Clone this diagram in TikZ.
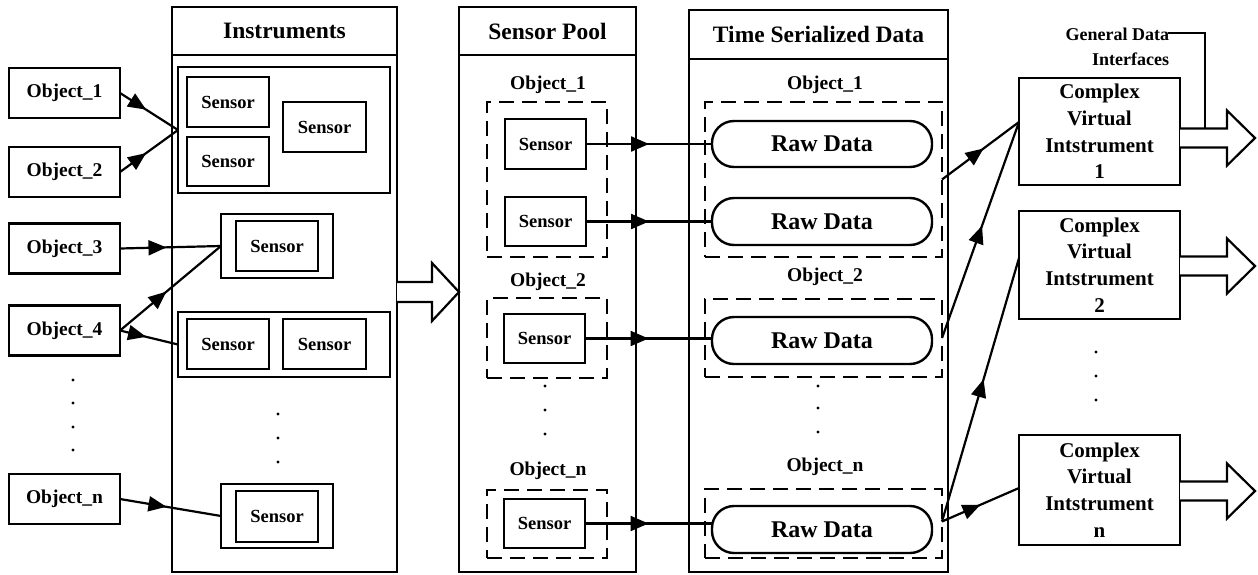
\documentclass[tikz,border=0pt]{standalone}
\usepackage{fontspec}
\setmainfont{Liberation Serif}
\usetikzlibrary{arrows.meta,decorations.markings,calc}

\tikzset{
  every node/.style={inner sep=0pt, outer sep=0pt},
  solidbox/.style={draw, line width=2.4pt, line join=miter},
  dashbox/.style={draw, line width=2.4pt, dash pattern=on 15pt off 8pt},
  hdrfont/.style={font=\fontsize{23.5}{28}\selectfont\bfseries},
  objbox/.style={solidbox, minimum width=111, minimum height=50,
                 font=\fontsize{19.5}{23}\selectfont\bfseries},
  sensorbox/.style={solidbox, minimum width=82, minimum height=50,
                 font=\fontsize{18.5}{22}\selectfont\bfseries},
  rawbox/.style={solidbox, rounded corners=22pt, minimum width=220, minimum height=47,
                 font=\fontsize{24}{28}\selectfont\bfseries},
  cvibox/.style={solidbox, minimum width=161, align=center,
                 font=\fontsize{21}{26.7}\selectfont\bfseries},
  lbl/.style={font=\fontsize{19.5}{23}\selectfont\bfseries},
  conn/.style={line width=2.2pt},
  midarrow/.style={postaction={decorate}, decoration={markings,
      mark=at position #1 with {\arrow{Triangle[length=18pt,width=15pt]}}}},
  midarrow/.default=0.5,
  blockarrow/.style={draw, line width=2.2pt, line join=miter, fill=white},
  dotmark/.style={fill=black},
}

% hollow block arrow starting at a box edge: #1 start, #2 shaft length,
% #3 head length, #4 shaft half width, #5 head half width
\newcommand{\hollowarrow}[5]{%
  \draw[blockarrow, shift={(#1)}]
    (0,-#4) -- (#2,-#4) -- (#2,-#5) -- ({#2+#3},0) -- (#2,#5) -- (#2,#4) -- (0,#4);}

\begin{document}
\begin{tikzpicture}[x=1pt,y=-1pt]
\useasboundingbox (0,0) rectangle (1258,574);

% ---------- objects ----------
\node[objbox] (o1) at (64.5,93)    {Object\_1};
\node[objbox] (o2) at (64.5,172)   {Object\_2};
\node[objbox] (o3) at (64.5,248.5) {Object\_3};
\node[objbox] (o4) at (64.5,330.5) {Object\_4};
\node[objbox] (on) at (64.5,499)   {Object\_n};
\foreach \yy in {380,403,427,450} \fill[dotmark] (73,\yy) circle (1.6pt);

% ---------- instruments column ----------
\node[solidbox, hdrfont, minimum width=225, minimum height=48] (insH) at (284.5,31) {Instruments};
\node[solidbox, minimum width=225, minimum height=517] (insB) at (284.5,313.5) {};

\node[solidbox, minimum width=212, minimum height=126] (g1) at (284,130) {};
\node[sensorbox] (s1a) at (228,102)   {Sensor};
\node[sensorbox, minimum height=49] (s1b) at (228,161.5) {Sensor};
\node[sensorbox, minimum width=83] (s1c) at (324.5,127) {Sensor};

\node[solidbox, minimum width=112, minimum height=64] (g2) at (277,246) {};
\node[sensorbox] (s2) at (277,246) {Sensor};

\node[solidbox, minimum width=212, minimum height=65] (g3) at (284,344.5) {};
\node[sensorbox] (s3a) at (228,344)   {Sensor};
\node[sensorbox, minimum width=83] (s3b) at (324.5,344) {Sensor};

\foreach \yy in {414,438,462} \fill[dotmark] (278,\yy) circle (1.6pt);

\node[solidbox, minimum width=112, minimum height=64] (gn) at (277,516) {};
\node[sensorbox, minimum height=51] (sn) at (277,516.5) {Sensor};

% ---------- sensor pool column ----------
\node[solidbox, hdrfont, minimum width=177, minimum height=48] (spH) at (547.5,31) {Sensor Pool};
\node[solidbox, minimum width=177, minimum height=517] (spB) at (547.5,313.5) {};

\node[lbl] (pl1) at (548,85)  {Object\_1};
\node[dashbox, minimum width=120, minimum height=155] (pd1) at (547,179.5) {};
\node[sensorbox, minimum width=81] (ps1) at (545.5,144) {Sensor};
\node[sensorbox, minimum width=81, minimum height=49] (ps2) at (545.5,221.5) {Sensor};

\node[lbl] (pl2) at (548,282) {Object\_2};
\node[dashbox, minimum width=120, minimum height=80] (pd2) at (547,338) {};
\node[sensorbox, minimum width=81, minimum height=49] (ps3) at (544.5,338.5) {Sensor};

\foreach \yy in {386,410,434} \fill[dotmark] (545,\yy) circle (1.6pt);

\node[lbl] (pln) at (548,471) {Object\_n};
\node[dashbox, minimum width=120, minimum height=68] (pdn) at (547,524) {};
\node[sensorbox, minimum width=81, minimum height=49] (psn) at (544.5,523.5) {Sensor};

% ---------- time serialized data column ----------
\node[solidbox, hdrfont, minimum width=259, minimum height=49] (tsH) at (818.5,34.5) {Time Serialized Data};
\node[solidbox, minimum width=259, minimum height=513] (tsB) at (818.5,315.5) {};

\node[lbl] (tl1) at (825,85)  {Object\_1};
\node[dashbox, minimum width=237, minimum height=155] (td1) at (823.5,179.5) {};
\node[rawbox, minimum height=46] (r1) at (822,144)   {Raw Data};
\node[rawbox] (r2) at (822,221.5) {Raw Data};

\node[lbl] (tl2) at (825,277) {Object\_2};
\node[dashbox, minimum width=237, minimum height=78] (td2) at (823.5,338) {};
\node[rawbox] (r3) at (822,340.5) {Raw Data};

\foreach \yy in {386,408,432} \fill[dotmark] (818,\yy) circle (1.6pt);

\node[lbl] (tln) at (825,467) {Object\_n};
\node[dashbox, minimum width=237, minimum height=69] (tdn) at (823.5,523.5) {};
\node[rawbox] (rn) at (822,529.5) {Raw Data};

% ---------- complex virtual instruments ----------
\node[cvibox, minimum height=107] (c1) at (1099.5,131.5) {Complex\\Virtual\\Intstrument\\1};
\node[cvibox, minimum height=108] (c2) at (1099.5,265)   {Complex\\Virtual\\Intstrument\\2};
\node[cvibox, minimum height=110] (cn) at (1099.5,490)   {Complex\\Virtual\\Intstrument\\n};
\foreach \yy in {352,376,400} \fill[dotmark] (1096,\yy) circle (1.6pt);

\node[align=right, anchor=north east, font=\fontsize{18}{25}\selectfont\bfseries] (gdi) at (1169,28)
  {General Data\\Interfaces};

% ---------- connectors: objects to instruments ----------
\draw[conn, midarrow=0.45] (o1.east) -- (g1.west);
\draw[conn, midarrow=0.45] (o2.east) -- (g1.west);
\draw[conn, midarrow=0.46] (o3.east) -- (g2.west);
\draw[conn, midarrow=0.46] (o4.east) -- (g2.west);
\draw[conn, midarrow=0.45] (o4.east) -- (g3.west);
\draw[conn, midarrow=0.46] (on.east) -- (gn.west);

% ---------- connectors: sensors to raw data ----------
\draw[conn, midarrow=0.5] (ps1.east) -- (ps1.east -| r1.west);
\draw[conn, midarrow=0.5] (ps2.east) -- (ps2.east -| r2.west);
\draw[conn, midarrow=0.5] (ps3.east) -- (ps3.east -| r3.west);
\draw[conn, midarrow=0.5] (psn.east) -- (psn.east -| rn.west);

% ---------- connectors: raw data groups to virtual instruments ----------
\coordinate (c1in) at ($(c1.west)+(0,-9.5)$);
\coordinate (c2in) at ($(c2.west)+(0,-7)$);
\coordinate (cnin) at ($(cn.west)+(0,-2)$);
\draw[conn, midarrow=0.54] (td1.east) -- (c1in);
\draw[conn, midarrow=0.52] (td2.east) -- (c1in);
\draw[conn, midarrow=0.54] ($(tdn.east)+(0,-2)$) -- (c2in);
\draw[conn, midarrow=0.5] ($(tdn.east)+(0,-2)$) -- (cnin);

% ---------- hollow block arrows ----------
\hollowarrow{$(insB.east)+(0,-21.5)$}{35}{27}{10}{29}
\hollowarrow{$(c1.east)+(0,6.5)$}{47}{28}{9.5}{27.5}
\hollowarrow{$(c2.east)+(0,1)$}{47}{28}{9.5}{27.5}
\hollowarrow{$(cn.east)+(0,1)$}{47}{28}{9.5}{27.5}

% ---------- general data interface pointer ----------
\coordinate (gdend) at ($(gdi.north east)+(-1,5)$);
\coordinate (gdtap) at ($(c1.east)+(25,-3)$);
\draw[conn] (gdend) -| (gdtap);

\end{tikzpicture}
\end{document}
